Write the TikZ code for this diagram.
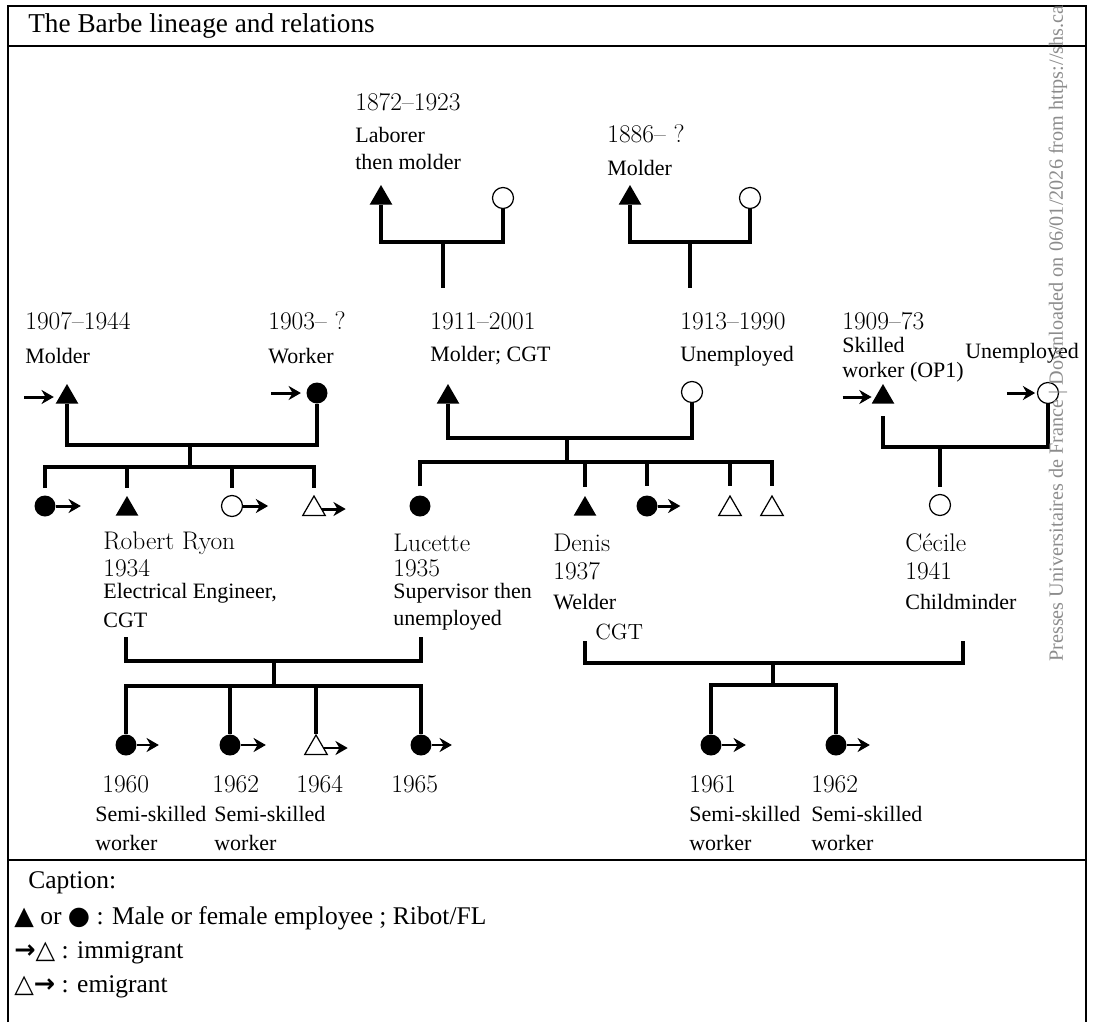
\documentclass[tikz,border=0pt]{standalone}
\usepackage{fontspec}
\setmainfont{Liberation Serif}
\newfontfamily\garfont{Latin Modern Roman}
\newfontfamily\symfont{DejaVu Sans}
\usetikzlibrary{positioning, shapes.geometric, arrows.meta}

\tikzset{
  maleR/.style={regular polygon, regular polygon sides=3, fill=black, inner sep=0pt, minimum size=0.52cm},
  maleO/.style={maleR, fill=white, draw=black, line width=0.7pt},
  femaleR/.style={circle, fill=black, inner sep=0pt, minimum size=0.42cm},
  femaleO/.style={femaleR, fill=white, draw=black, line width=0.7pt},
  kin/.style={line width=2.3pt},
  migr/.style={line width=1.7pt, -{Stealth[length=7pt, width=8pt]}},
  yr/.style={anchor=west, inner sep=0pt, font=\garfont\fontsize{14.5}{16}\selectfont},
  job/.style={anchor=west, inner sep=0pt, font=\fontsize{12.5}{14}\selectfont},
  captxt/.style={anchor=west, inner sep=0pt, font=\fontsize{14.5}{16}\selectfont},
}

\begin{document}
\begin{tikzpicture}[x=0.02cm, y=-0.02cm]
  \useasboundingbox (0,0) rectangle (1093,1022);
  % frame
  \draw[line width=1.3pt] (8,1022) -- (8,6) -- (1086,6) -- (1086,1022);
  \draw[line width=1.3pt] (8,46) -- (1086,46);
  \draw[line width=1.3pt] (8,860) -- (1086,860);
  \node[captxt, font=\fontsize{15.5}{17}\selectfont] (title) at (28,26) {The Barbe lineage and relations};

  % grandparents
  \node[yr] (gf1y) at (355,102) {1872–1923};
  \node[job] (gf1j) at (355,135) {Laborer};
  \node[job] (gf1k) at (355,162) {then molder};
  \node[yr] (gf2y) at (607,134) {1886– ?};
  \node[job] (gf2j) at (607,168) {Molder};
  \node[maleR] (gf1) at (381,198) {};
  \node[femaleO] (gm1) at (503,198) {};
  \node[maleR] (gf2) at (630,198) {};
  \node[femaleO] (gm2) at (750,198) {};
  \coordinate (m1) at (443,242);
  \coordinate (d1) at (443,288);
  \coordinate (m2) at (690,242);
  \coordinate (d2) at (690,288);
  \draw[kin] (gf1.south) |- (m1) -| (gm1.south);
  \draw[kin] (m1) -- (d1);
  \draw[kin] (gf2.south) |- (m2) -| (gm2.south);
  \draw[kin] (m2) -- (d2);

  % parents
  \node[yr] (p1y) at (25,321) {1907–1944};
  \node[job] (p1j) at (25,356) {Molder};
  \node[yr] (p2y) at (268,321) {1903– ?};
  \node[job] (p2j) at (268,356) {Worker};
  \node[yr] (p3y) at (430,321) {1911–2001};
  \node[job] (p3j) at (430,356) {Molder; CGT};
  \node[yr] (p4y) at (680,321) {1913–1990};
  \node[job] (p4j) at (680,356) {Unemployed};
  \node[yr] (p5y) at (842,321) {1909–73};
  \node[job] (p5j) at (842,345) {Skilled};
  \node[job] (p5k) at (842,372) {worker (OP1)};
  \node[job] (p6j) at (965,353) {Unemployed};

  \node[maleR] (p1) at (67,397) {};
  \node[femaleR] (p2) at (317,393) {};
  \node[maleR] (p3) at (448,397) {};
  \node[femaleO] (p4) at (692,392) {};
  \node[maleR] (p5) at (883,397) {};
  \node[femaleO] (p6) at (1048,393) {};
  \coordinate[left=0.7cm of p1] (p1i);
  \coordinate[left=0.7cm of p2] (p2i);
  \coordinate[left=0.65cm of p5] (p5i);
  \coordinate[left=0.6cm of p6] (p6i);
  \draw[migr, shorten >=3pt] (p1i) -- (p1.west);
  \draw[migr, shorten >=3pt] (p2i) -- (p2.west);
  \draw[migr, shorten >=2pt] (p5i) -- (p5.west);
  \draw[migr, shorten >=1pt] (p6i) -- (p6.west);

  \coordinate (m3) at (190,445);
  \coordinate (s3) at (190,467);
  \coordinate (m4) at (567,438);
  \coordinate (s4) at (567,462);
  \coordinate (m5) at (940,447);
  \draw[kin] (p1.south) |- (m3) -| (p2.south);
  \draw[kin] (m3) -- (s3);
  \draw[kin] (p3.south) |- (m4) -| (p4.south);
  \draw[kin] (m4) -- (s4);
  \draw[kin, shorten <=7pt] (p5.south) |- (m5) -| (p6.south);

  % children
  \node[femaleR] (c1) at (45,506) {};
  \node[maleR] (c2) at (127,509) {};
  \node[femaleO] (c3) at (232,506) {};
  \node[maleO] (c4) at (314,509) {};
  \node[femaleR] (c5) at (420,506) {};
  \node[maleR] (c6) at (585,509) {};
  \node[femaleR] (c7) at (647,506) {};
  \node[maleO] (c8) at (730,509) {};
  \node[maleO] (c9) at (772,509) {};
  \node[femaleO] (c10) at (940,505) {};
  \draw[kin, shorten <=4pt, shorten >=4pt] (c1.north) |- (s3) -| (c4.north);
  \draw[kin, shorten >=4pt] (s3 -| c2) -- (c2.north);
  \draw[kin, shorten >=4pt] (s3 -| c3) -- (c3.north);
  \draw[kin, shorten <=5pt, shorten >=5pt] (c5.north) |- (s4) -| (c9.north);
  \draw[kin, shorten >=5pt] (s4 -| c6) -- (c6.north);
  \draw[kin, shorten >=5pt] (s4 -| c7) -- (c7.north);
  \draw[kin, shorten >=5pt] (s4 -| c8) -- (c8.north);
  \draw[kin, shorten >=4pt] (m5) -- (c10.north);

  \coordinate[right=0.5cm of c1] (c1o);
  \coordinate[right=0.5cm of c3] (c3o);
  \coordinate[right=0.47cm of c4] (c4o);
  \coordinate[right=0.45cm of c7] (c7o);
  \draw[migr] (c1) -- (c1o);
  \draw[migr] (c3.east) -- (c3o);
  \draw[migr] (c4.east) -- (c4o);
  \draw[migr] (c7) -- (c7o);

  \node[yr] (c2n) at (103,543) {Robert Ryon};
  \node[yr] (c2y) at (103,568) {1934};
  \node[job] (c2j) at (103,593) {Electrical Engineer,};
  \node[job] (c2k) at (103,620) {CGT};
  \node[yr] (c5n) at (393,543) {Lucette};
  \node[yr] (c5y) at (393,568) {1935};
  \node[job] (c5j) at (393,593) {Supervisor then};
  \node[job] (c5k) at (393,620) {unemployed};
  \node[yr] (c6n) at (553,543) {Denis};
  \node[yr] (c6y) at (553,571) {1937};
  \node[job] (c6j) at (553,602) {Welder};
  \node[yr, font=\garfont\fontsize{12.5}{14}\selectfont] (c6k) at (595,632) {CGT};
  \node[yr] (c10n) at (905,543) {Cécile};
  \node[yr] (c10y) at (905,571) {1941};
  \node[job] (c10j) at (905,602) {Childminder};

  % grandchildren
  \coordinate (rr) at (126,637);
  \coordinate (lu) at (421,637);
  \coordinate (de) at (585,641);
  \coordinate (ce) at (963,641);
  \coordinate (m6) at (274,661);
  \coordinate (s6) at (274,686);
  \coordinate (m7) at (773,663);
  \coordinate (s7) at (773,685);
  \draw[kin] (rr) |- (m6) -| (lu);
  \draw[kin] (m6) -- (s6);
  \draw[kin] (de) |- (m7) -| (ce);
  \draw[kin] (m7) -- (s7);

  \node[femaleR] (g1) at (126,745) {};
  \node[femaleR] (g2) at (230,745) {};
  \node[maleO] (g3) at (316,748) {};
  \node[femaleR] (g4) at (421,745) {};
  \node[femaleR] (h1) at (711,745) {};
  \node[femaleR] (h2) at (836,745) {};
  \draw[kin] (g1.north) |- (s6) -| (g4.north);
  \draw[kin] (s6 -| g2) -- (g2.north);
  \draw[kin] (s6 -| g3) -- (g3.north);
  \draw[kin] (h1.north) |- (s7) -| (h2.north);

  \coordinate[right=0.44cm of g1] (g1o);
  \coordinate[right=0.5cm of g2] (g2o);
  \coordinate[right=0.47cm of g3] (g3o);
  \coordinate[right=0.4cm of g4] (g4o);
  \coordinate[right=0.48cm of h1] (h1o);
  \coordinate[right=0.46cm of h2] (h2o);
  \draw[migr, line width=1.3pt] (g1) -- (g1o);
  \draw[migr, line width=1.3pt] (g2) -- (g2o);
  \draw[migr, line width=1.3pt] (g3.east) -- (g3o);
  \draw[migr, line width=1.3pt] (g4) -- (g4o);
  \draw[migr, line width=1.3pt] (h1) -- (h1o);
  \draw[migr, line width=1.3pt] (h2) -- (h2o);

  \node[yr] (g1y) at (102,784) {1960};
  \node[yr] (g2y) at (212,784) {1962};
  \node[yr] (g3y) at (296,784) {1964};
  \node[yr] (g4y) at (391,784) {1965};
  \node[job] (g1j) at (95,814) {Semi-skilled};
  \node[job] (g1k) at (95,843) {worker};
  \node[job] (g2j) at (214,814) {Semi-skilled};
  \node[job] (g2k) at (214,843) {worker};
  \node[yr] (h1y) at (689,784) {1961};
  \node[yr] (h2y) at (811,784) {1962};
  \node[job] (h1j) at (689,814) {Semi-skilled};
  \node[job] (h1k) at (689,843) {worker};
  \node[job] (h2j) at (811,814) {Semi-skilled};
  \node[job] (h2k) at (811,843) {worker};

  % caption
  \node[captxt] (capt) at (28,883) {Caption:};
  \node[captxt] (key1) at (14,918) {{\symfont ▲} or {\symfont ●} : Male or female employee ; Ribot/FL};
  \node[captxt] (key2) at (14,953) {{\symfont\bfseries →}{\symfont △} : immigrant};
  \node[captxt] (key3) at (14,987) {{\symfont △}{\symfont\bfseries →} : emigrant};

  \node[rotate=90, anchor=west, inner sep=0pt, text=black!45, font=\fontsize{11.5}{13}\selectfont] (wm) at (1058,662) {Presses Universitaires de France | Downloaded on 06/01/2026 from https://shs.ca};
\end{tikzpicture}
\end{document}
